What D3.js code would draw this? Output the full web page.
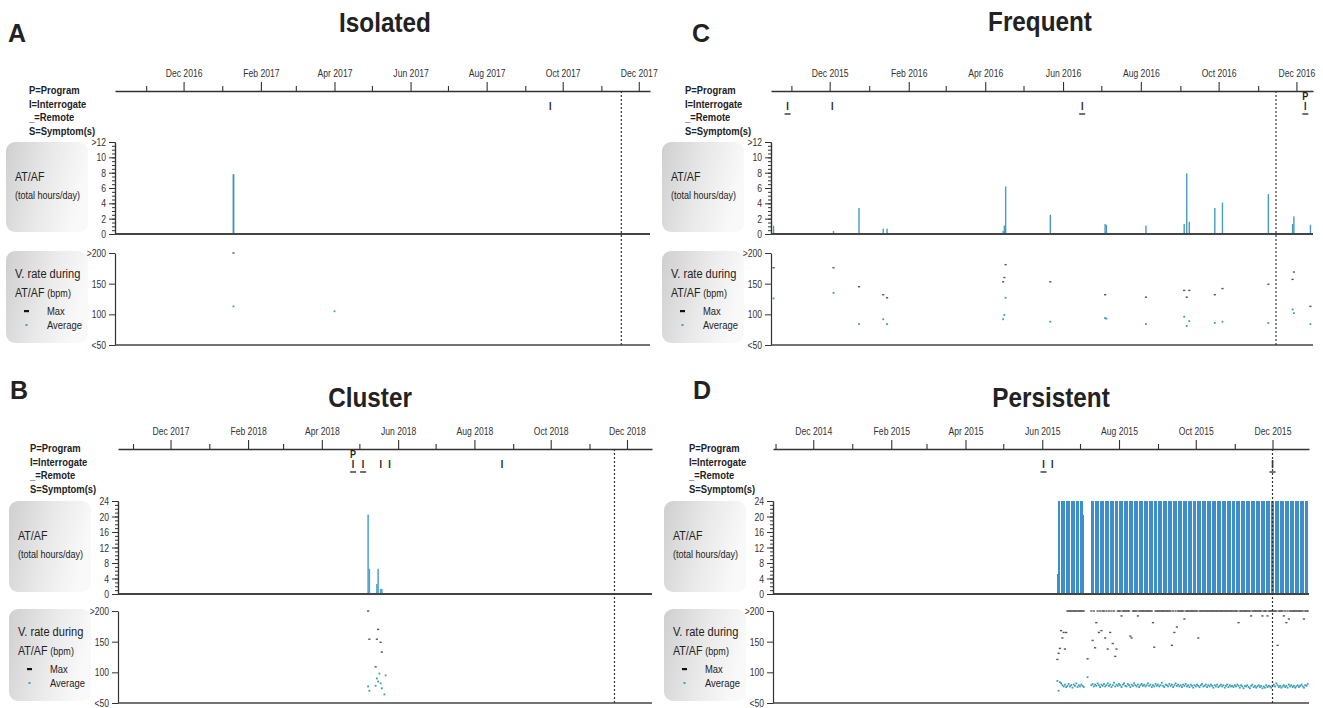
<!DOCTYPE html>
<html><head><meta charset="utf-8">
<script src="https://cdn.jsdelivr.net/npm/d3@7"></script>
<style>
body{margin:0;background:#fff}
svg text{font-family:"Liberation Sans",Arial,sans-serif;fill:#222}
.letter{font-weight:bold;font-size:25px}
.title{font-weight:bold;font-size:27px}
.mlab{font-size:10.5px;fill:#333}
.legend{font-weight:bold;font-size:11.5px}
.ylab{font-size:10.5px;fill:#333}
.box1{font-size:13px}
.box2{font-size:11px}
.ev{font-weight:bold;font-size:11px}
</style>
</head><body>
<svg id="c" width="1323" height="708"></svg>
<script>
// ---------- DATA ----------
const hourLabels12 = [">12","10","8","6","4","2","0"];
const hourValues12 = [12,10,8,6,4,2,0];
const hourLabels24 = ["24","20","16","12","8","4","0"];
const hourValues24 = [24,20,16,12,8,4,0];
const rateLabels = [">200","150","100","<50"];
const rateValues = [200,150,100,50];
const legendLines = ["P=Program","I=Interrogate","_=Remote","S=Symptom(s)"];

// Panel A - Isolated
const aMonthLabels = ["Dec 2016","Feb 2017","Apr 2017","Jun 2017","Aug 2017","Oct 2017","Dec 2017"];
const aWindow = ["2016-10-07","2017-12-10"];
const aToday = "2017-11-17";
const aDates = ["2017-01-10","2017-04-01"];
const aHours = [7.8,0.1];
const aMax = [200,null];
const aAvg = [113,105];
const aEventDates = ["2017-09-21"];
const aEventCodes = ["I"];

// Panel B - Cluster
const bMonthLabels = ["Dec 2017","Feb 2018","Apr 2018","Jun 2018","Aug 2018","Oct 2018","Dec 2018"];
const bWindow = ["2017-10-20","2018-12-21"];
const bToday = "2018-11-21";
const bDates = ["2018-05-08","2018-05-09","2018-05-15","2018-05-16","2018-05-18","2018-05-19"];
const bHours = [20.5,6.5,2.6,6.5,1.3,1.3];
const bRateDates = ["2018-05-08","2018-05-09","2018-05-14","2018-05-15","2018-05-16","2018-05-17","2018-05-18","2018-05-19","2018-05-21","2018-05-22"];
const bMax = [200,154,109,154,170,null,149,133,null,null];
const bAvg = [77,70,78,90,85,98,82,74,64,95];
const bEventDates = ["2018-04-26","2018-05-04","2018-05-18","2018-05-25","2018-08-23"];
const bEventCodes = ["PI_","I_","I","I","I"];

// Panel C - Frequent
const cMonthLabels = ["Dec 2015","Feb 2016","Apr 2016","Jun 2016","Aug 2016","Oct 2016","Dec 2016"];
const cWindow = ["2015-10-16","2016-12-14"];
const cToday = "2016-11-15";
const cDates = ["2015-10-18","2015-12-04","2015-12-24","2016-01-12","2016-01-15","2016-04-15","2016-04-16","2016-04-17","2016-05-22","2016-07-04","2016-07-05","2016-08-05","2016-09-04","2016-09-06","2016-09-08","2016-09-28","2016-10-04","2016-11-09","2016-11-28","2016-11-29","2016-12-12"];
const cHours = [1.1,0.4,3.4,0.7,0.7,0.4,1.1,6.2,2.5,1.3,1.2,1.1,1.3,7.9,1.6,3.4,4.1,5.2,1.3,2.3,1.2];
const cMax = [176,176,145,132,127,153,160,181,153,132,null,128,139,128,139,132,142,149,157,169,113];
const cAvg = [126,135,84,92,84,92,99,127,88,94,93,84,96,81,89,86,88,86,108,102,84];
const cEventDates = ["2015-10-29","2015-12-03","2016-06-16","2016-12-08"];
const cEventCodes = ["I_","I","I_","PI_"];

// Panel D - Persistent
const dMonthLabels = ["Dec 2014","Feb 2015","Apr 2015","Jun 2015","Aug 2015","Oct 2015","Dec 2015"];
const dWindow = ["2014-10-30","2015-12-30"];
const dToday = "2015-12-01";
const dRunStart = ["2015-06-13","2015-06-14","2015-07-04","2015-07-10"];
const dRunEnd   = ["2015-06-13","2015-07-03","2015-07-04","2015-12-29"];
const dRunHours = [5.2,24,20.5,24];
const dRateStart = "2015-06-13";
const dMax = [
121,131,139,168,156,165,138,165,200,200,
200,200,200,200,200,200,200,200,200,200,
200,200,null,null,122,null,null,200,152,200,
140,181,200,165,200,168,200,200,156,200,
138,200,165,200,147,200,126,138,200,200,
200,192,200,200,200,200,200,200,159,156,
200,200,200,200,192,200,200,200,200,200,
200,200,200,200,200,200,181,141,200,200,
200,200,200,200,200,200,200,200,200,200,
200,144,200,165,200,174,200,200,200,200,
200,187,200,200,200,200,200,200,200,200,
200,200,156,200,200,200,200,200,200,200,
200,200,200,200,200,200,200,200,200,200,
200,200,200,200,200,200,200,200,200,200,
200,200,200,200,181,200,200,200,200,200,
200,200,200,200,192,200,200,200,200,200,
200,200,200,192,200,200,200,192,200,200,
200,200,200,200,200,144,200,200,200,200,
192,200,181,200,187,200,200,200,200,200,
200,200,200,200,200,200,187,200,200,200];
const dAvg = [
86,70,84,82,79,77,80,76,78,81,
77,79,75,80,78,82,76,79,77,80,
78,76,null,null,92,null,null,79,81,77,
80,78,82,79,76,80,78,81,77,79,
82,78,80,76,79,83,77,80,78,81,
79,76,80,82,78,77,81,79,76,80,
78,82,79,77,80,76,79,81,78,80,
77,79,82,78,80,76,79,77,81,78,
80,77,79,83,78,76,80,79,77,81,
78,80,76,79,82,78,80,77,79,76,
80,78,81,77,79,76,80,78,75,79,
77,80,78,76,79,81,77,78,80,76,
79,77,80,78,75,79,77,80,76,78,
80,77,79,75,78,80,76,79,77,78,
76,79,77,80,78,75,79,77,74,78,
77,79,76,74,78,80,76,78,75,77,
79,76,78,74,77,75,79,76,78,77,
75,78,80,77,82,79,76,78,75,77,
79,76,78,75,80,77,79,76,78,75,
77,79,76,78,80,77,75,79,78,81];
const dEventDates = ["2015-06-02","2015-06-09","2015-12-01"];
const dEventCodes = ["I_","I","I_"];

// ---------- BUILD ----------
const SX = 0.82;           // narrow-font emulation
const parse = d3.timeParse("%Y-%m-%d");
const parseMonth = d3.timeParse("%b %Y");
const svg = d3.select("#c");
const defs = svg.append("defs");
const grad = defs.append("linearGradient").attr("id","boxGrad")
  .attr("x1","0").attr("y1","0").attr("x2","1").attr("y2","0.25");
grad.append("stop").attr("offset","0").attr("stop-color","#cfcfcf");
grad.append("stop").attr("offset","0.55").attr("stop-color","#e9e9e9");
grad.append("stop").attr("offset","1").attr("stop-color","#f9f9f9");

function T(g, x, y, str, cls, anchor, sx){
  return g.append("text").attr("class",cls)
    .attr("transform",`translate(${x},${y}) scale(${sx||SX},1)`)
    .attr("text-anchor",anchor||"start").text(str);
}

const zip = (dates, a, b) => dates.map((d,i)=>({date: d instanceof Date ? d : parse(d), v1:a[i], v2: b ? b[i] : null}));

function expandRuns(starts, ends, hours){
  const out=[];
  starts.forEach((s,i)=>{
    d3.timeDay.range(parse(s), d3.timeDay.offset(parse(ends[i]),1)).forEach(day=>out.push({date:day, v1:hours[i]}));
  });
  return out;
}

function styleLeftAxis(a){
  a.select(".domain").attr("stroke","#333").attr("stroke-width",1.2);
  a.selectAll(".tick line").attr("stroke","#333");
  a.selectAll(".tick text").attr("class","ylab").attr("dy",null).attr("y",3.5)
    .attr("x", function(){ return +d3.select(this).attr("x")/SX; })
    .attr("transform",`scale(${SX},1)`);
}

function drawPanel(L, D){
  const g = svg.append("g");
  const x = d3.scaleTime().domain([parse(D.window[0]), parse(D.window[1])]).range([L.left, L.right]);

  T(g, L.letterX, L.letterY, L.letter, "letter", "start", 1);
  T(g, L.titleX, L.titleY, L.title, "title", "middle", 0.9);

  // month axis
  const labelled = D.monthLabels.map(s=>+parseMonth(s));
  const months = d3.timeMonth.range(d3.timeMonth.ceil(x.domain()[0]), x.domain()[1]);
  const ax = d3.axisTop(x).tickValues(months).tickSize(9).tickSizeOuter(0).tickPadding(5)
    .tickFormat(d=>{const i=labelled.indexOf(+d); return i>=0 ? D.monthLabels[i] : "";});
  const axG = g.append("g").attr("transform",`translate(0,${L.axisY})`).call(ax);
  axG.select(".domain").attr("stroke","#333").attr("stroke-width",1.4);
  axG.selectAll(".tick line").attr("stroke","#333").attr("stroke-width",1.1)
     .attr("y2", d=> labelled.includes(+d) ? -9 : -5);
  axG.selectAll(".tick text").attr("class","mlab").attr("transform",`scale(${SX},1)`);

  // legend text
  legendLines.forEach((t,i)=> T(g, L.legendX, L.axisY+3+i*13.5, t, "legend"));

  // events
  D.events.forEach(ev=>{
    const ex = x(parse(ev.date));
    if (ev.code.includes("P")) T(g, ex, L.axisY+8.5, "P", "ev", "middle");
    T(g, ex, L.axisY+19, "I", "ev", "middle");
    if (ev.code.includes("_")) g.append("line").attr("x1",ex-3).attr("x2",ex+3).attr("y1",L.axisY+23).attr("y2",L.axisY+23).attr("stroke","#222").attr("stroke-width",1.3);
  });

  // left boxes
  const bx = L.left - 109;
  g.append("rect").attr("x",bx).attr("y",L.c1Top).attr("width",82).attr("height",L.c1Bot-L.c1Top-2).attr("rx",9).attr("fill","url(#boxGrad)");
  g.append("rect").attr("x",bx).attr("y",L.c2Top-2).attr("width",82).attr("height",L.c2Bot-L.c2Top).attr("rx",9).attr("fill","url(#boxGrad)");
  T(g, bx+9, L.c1Top+39, "AT/AF", "box1");
  T(g, bx+9, L.c1Top+57, "(total hours/day)", "box2");
  T(g, bx+9, L.c2Top+25, "V. rate during", "box1").style("font-size","13.5px");
  const t2 = T(g, bx+9, L.c2Top+44, "", "box1");
  t2.append("tspan").text("AT/AF ");
  t2.append("tspan").style("font-size","11px").text("(bpm)");
  g.append("rect").attr("x",bx+18).attr("y",L.c2Top+57).attr("width",5).attr("height",2.2).attr("fill","#111");
  T(g, bx+41, L.c2Top+62, "Max", "box2").style("font-size","11.5px");
  g.append("rect").attr("x",bx+19.5).attr("y",L.c2Top+71).attr("width",2).attr("height",2).attr("fill","#3fa3b5");
  T(g, bx+41, L.c2Top+76, "Average", "box2").style("font-size","11.5px");

  // chart 1: AT/AF hours
  const yH = d3.scaleLinear().domain([0, D.yMax]).range([L.c1Bot, L.c1Top]);
  const minor = g.append("g").attr("transform",`translate(${L.left},0)`)
    .call(d3.axisLeft(yH).tickValues(d3.range(0, D.yMax+0.001, D.yMinor)).tickSize(3).tickSizeOuter(0).tickFormat(""));
  const major = g.append("g").attr("transform",`translate(${L.left},0)`)
    .call(d3.axisLeft(yH).tickValues(D.yTickVals).tickSize(6).tickSizeOuter(0).tickPadding(3)
      .tickFormat(d=>D.yTickLabels[D.yTickVals.indexOf(d)]));
  styleLeftAxis(minor); styleLeftAxis(major);
  g.append("line").attr("x1",L.left).attr("x2",L.right).attr("y1",L.c1Bot).attr("y2",L.c1Bot).attr("stroke","#444").attr("stroke-width",2);

  g.append("g").selectAll("rect").data(D.bars).join("rect")
    .attr("shape-rendering", L.crisp ? "crispEdges" : null)
    .attr("x", d=>x(d.date)-L.barW/2).attr("width", L.barW)
    .attr("y", d=>yH(Math.min(d.v1, D.yMax))).attr("height", d=>L.c1Bot-1-yH(Math.min(d.v1, D.yMax)))
    .attr("fill", L.barColor);

  // chart 2: ventricular rate
  const yR = d3.scaleLinear().domain([50,200]).range([L.c2Bot, L.c2Top]);
  const ra = g.append("g").attr("transform",`translate(${L.left},0)`)
    .call(d3.axisLeft(yR).tickValues(rateValues).tickSize(6).tickSizeOuter(0).tickPadding(3)
      .tickFormat(d=>rateLabels[rateValues.indexOf(d)]));
  styleLeftAxis(ra);
  g.append("line").attr("x1",L.left).attr("x2",L.right).attr("y1",L.c2Bot).attr("y2",L.c2Bot).attr("stroke","#444").attr("stroke-width",1.6);

  const clampR = v=>Math.max(50, Math.min(200, v));
  g.append("g").selectAll("rect").data(D.rates.filter(d=>d.v1!=null)).join("rect")
    .attr("x", d=>x(d.date)-1.1).attr("y", d=>yR(clampR(d.v1))-0.7).attr("width",2.2).attr("height",1.4).attr("fill","#555");
  g.append("g").selectAll("rect").data(D.rates.filter(d=>d.v2!=null)).join("rect")
    .attr("x", d=>x(d.date)-0.9).attr("y", d=>yR(clampR(d.v2))-0.9).attr("width",1.8).attr("height",1.8).attr("fill","#3a9db5");

  // dotted "today" line
  const tx = x(parse(D.today));
  g.append("line").attr("x1",tx).attr("x2",tx).attr("y1",L.axisY).attr("y2",L.c2Bot)
    .attr("stroke","#333").attr("stroke-width",1.2).attr("stroke-dasharray","2,2");
}

const topRow = {axisY:91, c1Top:142, c1Bot:234, c2Top:253, c2Bot:345};
const botRow = {axisY:449, c1Top:501, c1Bot:594, c2Top:611, c2Bot:703};

const mkEvents = (dates, codes)=>dates.map((d,i)=>({date:d, code:codes[i]}));

drawPanel(Object.assign({letter:"A", title:"Isolated", letterX:8, letterY:42, titleX:385, titleY:32, left:115, right:650, legendX:29, barColor:"#3f8fc6", barW:1.8}, topRow),
  {window:aWindow, today:aToday, monthLabels:aMonthLabels, yMax:12, yTickVals:hourValues12, yTickLabels:hourLabels12, yMinor:0.5,
   bars:zip(aDates,aHours), rates:zip(aDates,aMax,aAvg), events:mkEvents(aEventDates,aEventCodes)});

drawPanel(Object.assign({letter:"C", title:"Frequent", letterX:692, letterY:42, titleX:1040, titleY:31, left:771, right:1313, legendX:685, barColor:"#4a9bc0", barW:1.4}, topRow),
  {window:cWindow, today:cToday, monthLabels:cMonthLabels, yMax:12, yTickVals:hourValues12, yTickLabels:hourLabels12, yMinor:0.5,
   bars:zip(cDates,cHours), rates:zip(cDates,cMax,cAvg), events:mkEvents(cEventDates,cEventCodes)});

drawPanel(Object.assign({letter:"B", title:"Cluster", letterX:10, letterY:399, titleX:370, titleY:407, left:118, right:652, legendX:30, barColor:"#4f9fd2", barW:1.5}, botRow),
  {window:bWindow, today:bToday, monthLabels:bMonthLabels, yMax:24, yTickVals:hourValues24, yTickLabels:hourLabels24, yMinor:1,
   bars:zip(bDates,bHours), rates:zip(bRateDates,bMax,bAvg), events:mkEvents(bEventDates,bEventCodes)});

const dDays = dMax.map((_,i)=>d3.timeDay.offset(parse(dRateStart), i));
drawPanel(Object.assign({letter:"D", title:"Persistent", letterX:693, letterY:399, titleX:1051, titleY:407, left:773, right:1309, legendX:689, barColor:"#3d8ecb", barW:1, crisp:true}, botRow),
  {window:dWindow, today:dToday, monthLabels:dMonthLabels, yMax:24, yTickVals:hourValues24, yTickLabels:hourLabels24, yMinor:1,
   bars:expandRuns(dRunStart,dRunEnd,dRunHours), rates:zip(dDays,dMax,dAvg), events:mkEvents(dEventDates,dEventCodes)});
</script>
</body></html>
